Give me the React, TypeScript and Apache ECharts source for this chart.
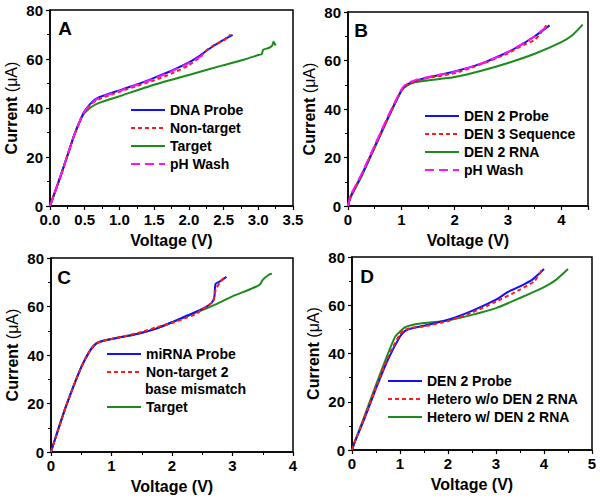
import React, { useEffect, useRef } from "react";
import * as echarts from "echarts";

// ---------- Data (Voltage V, Current µA) ----------
const aDnaProbe = [[0,0],[0.05,4],[0.15,12],[0.25,20.5],[0.35,29],[0.45,36],[0.5,38.8],[0.6,42.3],[0.7,44.3],[0.85,45.8],[1.0,47.2],[1.25,49.6],[1.5,52.3],[1.75,55.2],[2.0,58.6],[2.15,61.2],[2.3,64.3],[2.45,67],[2.63,69.8]];
const aNonTarget = [[0,0],[0.05,4],[0.15,12],[0.25,20.5],[0.35,29],[0.45,36],[0.5,38.6],[0.6,41.8],[0.7,43.5],[0.85,45.2],[1.0,46.6],[1.25,49],[1.5,51.3],[1.75,54],[2.0,57.5],[2.15,60.5],[2.25,63.5],[2.35,65.5],[2.5,67.5],[2.6,70]];
const aTarget = [[0,0],[0.05,4],[0.15,12],[0.25,20.5],[0.35,29],[0.45,35.8],[0.5,38],[0.6,40.5],[0.7,42],[1.0,44.8],[1.5,49.5],[2.0,53.5],[2.5,57.5],[2.8,59.8],[3.0,61.6],[3.05,62],[3.07,63.8],[3.15,64.5],[3.2,65.5],[3.22,67],[3.25,65.5]];
const aPhWash = [[0,0],[0.05,4],[0.15,12],[0.25,20.5],[0.35,29],[0.45,36],[0.5,38.8],[0.6,42],[0.7,44],[0.85,45.6],[1.0,47],[1.25,49.5],[1.5,52],[1.75,55],[2.0,58.3],[2.2,61.5]];

const bProbe = [[0,0],[0.05,4],[0.25,12.5],[0.5,24.5],[0.75,36.5],[1.0,47.5],[1.1,50],[1.25,51.5],[1.5,53],[2.0,55.5],[2.5,58.7],[3.0,63.5],[3.25,66.5],[3.5,70],[3.78,74.5]];
const bDen3 = [[0,0],[0.05,4],[0.25,12.5],[0.5,24.5],[0.75,36.5],[1.0,47.5],[1.1,50],[1.25,51.5],[1.5,52.8],[2.0,54.8],[2.5,58.5],[3.0,63],[3.3,66.5],[3.5,68.5],[3.6,71],[3.72,74.5]];
const bRna = [[0,0],[0.05,3.5],[0.25,12],[0.5,24],[0.75,36],[1.0,47.5],[1.1,49.5],[1.25,51],[1.5,51.8],[2.0,53.2],[2.5,55.8],[3.0,59],[3.5,62.8],[4.0,67.6],[4.2,70.3],[4.4,74.8]];
const bPhWash = [[0,0],[0.05,4.5],[0.25,13],[0.5,25],[0.75,37],[1.0,48],[1.1,50.5],[1.25,51.8],[1.5,53.2],[2.0,55.3],[2.5,58.8],[3.0,63.5],[3.5,70],[3.75,74.5]];

const cProbe = [[0,0],[0.05,4],[0.25,19],[0.5,35],[0.65,42],[0.75,44.8],[0.85,45.8],[1.0,46.6],[1.25,47.8],[1.5,49.2],[1.75,51],[2.0,53.5],[2.25,56.3],[2.5,59],[2.65,61.4],[2.7,63.8],[2.72,69.3],[2.8,70.5],[2.9,72.2]];
const cNonTarget = [[0,0],[0.05,4],[0.25,19],[0.5,35],[0.65,42],[0.75,44.8],[0.85,45.8],[1.0,46.6],[1.25,48],[1.5,49.5],[1.75,51.5],[2.0,53.2],[2.2,55],[2.4,57],[2.48,58.5],[2.6,60.5],[2.68,62],[2.7,64.5],[2.73,67.5],[2.8,70],[2.87,72.5]];
const cTarget = [[0,0],[0.05,4],[0.25,19],[0.5,35],[0.65,42],[0.75,44.8],[0.85,45.8],[1.0,46.6],[1.25,47.8],[1.5,49.2],[1.75,51],[2.0,53.5],[2.25,56],[2.5,58.5],[2.75,61.2],[3.0,64.2],[3.3,67.2],[3.45,69],[3.5,71],[3.6,73.1],[3.65,73.5]];

const dProbe = [[0,0],[0.05,3],[0.25,12.5],[0.5,25.5],[0.75,37.5],[1.0,47],[1.1,49.3],[1.25,50.5],[1.5,51.5],[2.0,54],[2.5,57.7],[3.0,62.3],[3.25,65.5],[3.5,67.8],[3.75,70.5],[4.0,75]];
const dHeteroWo = [[0,0],[0.05,3],[0.25,13],[0.5,26],[0.75,38.5],[1.0,48],[1.1,49.8],[1.25,50.7],[1.5,51.2],[2.0,53.5],[2.5,57],[3.0,61.5],[3.5,66.5],[3.8,70],[3.95,74.5]];
const dHeteroW = [[0,0],[0.05,3],[0.25,13.5],[0.5,27],[0.75,40],[0.9,47],[1.0,49.1],[1.1,50.8],[1.25,51.8],[1.5,52.6],[2.0,53.7],[2.5,56],[3.0,58.8],[3.5,63],[4.0,67.5],[4.25,70.5],[4.5,75]];

const panelLabels = ["A", "B", "C", "D"];
const xMaxes = [3.5, 4.5, 4, 5];
const xIntervals = [0.5, 1, 1, 1];

const BLUE = "#1010ff";
const RED = "#ff1a1a";
const GREEN = "#1a8c1a";
const MAGENTA = "#ff10ff";
const FONT = "Liberation Sans, Arial, sans-serif";

export default function App() {
  const ref = useRef<HTMLDivElement>(null);
  useEffect(() => {
    if (!ref.current) return;
    const chart = echarts.init(ref.current, null, { renderer: "svg" });

    const grids = [
      { left: 50, top: 10, width: 243, height: 196 },
      { left: 348, top: 12, width: 240, height: 194 },
      { left: 51, top: 258, width: 242, height: 194 },
      { left: 352, top: 257, width: 240, height: 193 },
    ].map((g) => ({ ...g, show: true, borderColor: "#000", borderWidth: 1.5, backgroundColor: "transparent" }));

    const xAxis = xMaxes.map((mx, i) => ({
      type: "value",
      gridIndex: i,
      min: 0,
      max: mx,
      interval: xIntervals[i],
      name: "Voltage (V)",
      nameLocation: "middle",
      nameGap: 26,
      nameTextStyle: { fontFamily: FONT, fontWeight: "bold", fontSize: 16, color: "#000" },
      axisLine: { show: true, lineStyle: { color: "#000", width: 1.5 } },
      axisTick: { show: true, length: 4, lineStyle: { color: "#000", width: 1.2 } },
      minorTick: { show: true, splitNumber: 2, length: 3, lineStyle: { color: "#000", width: 1 } },
      splitLine: { show: false },
      axisLabel: {
        fontFamily: FONT,
        fontWeight: "bold",
        fontSize: 15,
        color: "#000",
        margin: 6,
        formatter: (v: number) => {
          if (i === 0) return v.toFixed(1);
          return Number.isInteger(v) ? String(v) : "";
        },
      },
    }));

    const yAxis = [0, 1, 2, 3].map((i) => ({
      type: "value",
      gridIndex: i,
      min: 0,
      max: 80,
      interval: 20,
      name: "Current {u|(μA)}",
      nameLocation: "middle",
      nameGap: 31,
      nameTextStyle: {
        fontFamily: FONT,
        fontWeight: "bold",
        fontSize: 16,
        color: "#000",
        rich: { u: { fontFamily: FONT, fontWeight: "normal", fontSize: 16, color: "#000" } },
      },
      axisLine: { show: true, lineStyle: { color: "#000", width: 1.5 } },
      axisTick: { show: true, length: 4, lineStyle: { color: "#000", width: 1.2 } },
      minorTick: { show: true, splitNumber: 2, length: 3, lineStyle: { color: "#000", width: 1 } },
      splitLine: { show: false },
      axisLabel: { fontFamily: FONT, fontWeight: "bold", fontSize: 15, color: "#000", margin: 7 },
    }));

    const mk = (name: string, data: number[][], idx: number, color: string, dash: any, z = 2) => ({
      type: "line",
      name,
      data,
      xAxisIndex: idx,
      yAxisIndex: idx,
      showSymbol: false,
      symbol: "none",
      smooth: 0.2,
      z,
      lineStyle: { color, width: 2, type: dash },
      itemStyle: { color },
    });

    const series = [
      mk("Target", aTarget, 0, GREEN, "solid", 1),
      mk("DNA Probe", aDnaProbe, 0, BLUE, "solid", 2),
      mk("Non-target", aNonTarget, 0, RED, [4, 3], 3),
      mk("pH Wash", aPhWash, 0, MAGENTA, [9, 5], 4),
      mk("DEN 2 RNA", bRna, 1, GREEN, "solid", 1),
      mk("DEN 2 Probe", bProbe, 1, BLUE, "solid", 2),
      mk("DEN 3 Sequence", bDen3, 1, RED, [4, 3], 3),
      mk("pH Wash ", bPhWash, 1, MAGENTA, [9, 5], 4),
      mk("Target ", cTarget, 2, GREEN, "solid", 1),
      mk("miRNA Probe", cProbe, 2, BLUE, "solid", 2),
      mk("Non-target 2", cNonTarget, 2, RED, [4, 3], 3),
      mk("Hetero w/ DEN 2 RNA", dHeteroW, 3, GREEN, "solid", 1),
      mk("DEN 2 Probe ", dProbe, 3, BLUE, "solid", 2),
      mk("Hetero w/o DEN 2 RNA", dHeteroWo, 3, RED, [4, 3], 3),
    ];

    const legendBase = {
      orient: "vertical",
      itemWidth: 34,
      itemHeight: 14,
      itemGap: 4,
      padding: 0,
      itemStyle: { opacity: 0 },
      lineStyle: { width: 2 },
      textStyle: { fontFamily: FONT, fontWeight: "bold", fontSize: 14, color: "#000" },
    };

    const legend = [
      { ...legendBase, left: 130, top: 103, data: ["DNA Probe", "Non-target", "Target", "pH Wash"] },
      { ...legendBase, left: 424, top: 109, data: ["DEN 2 Probe", "DEN 3 Sequence", "DEN 2 RNA", "pH Wash "] },
      { ...legendBase, left: 106, top: 347, data: ["miRNA Probe", "Non-target 2"] },
      { ...legendBase, left: 106, top: 400, data: ["Target "] },
      { ...legendBase, left: 387, top: 374, data: ["DEN 2 Probe ", "Hetero w/o DEN 2 RNA", "Hetero w/ DEN 2 RNA"] },
    ];

    const labelPos = [
      [65, 28],
      [361, 30],
      [64, 277],
      [367, 276],
    ];

    const graphic: any[] = panelLabels.map((t, i) => ({
      type: "text",
      x: labelPos[i][0],
      y: labelPos[i][1],
      style: {
        text: t,
        fontFamily: FONT,
        fontWeight: "bold",
        fontSize: 19,
        fill: "#000",
        align: "center",
        verticalAlign: "middle",
      },
    }));
    graphic.push({
      type: "text",
      x: 145,
      y: 389,
      style: {
        text: "base mismatch",
        fontFamily: FONT,
        fontWeight: "bold",
        fontSize: 14,
        fill: "#000",
        align: "left",
        verticalAlign: "middle",
      },
    });

    chart.setOption({
      animation: false,
      backgroundColor: "#fff",
      grid: grids,
      xAxis,
      yAxis,
      series,
      legend,
      graphic,
    } as any);

    return () => chart.dispose();
  }, []);

  return <div ref={ref} style={{ position: "fixed", left: 0, top: 0, width: 600, height: 502 }} />;
}
